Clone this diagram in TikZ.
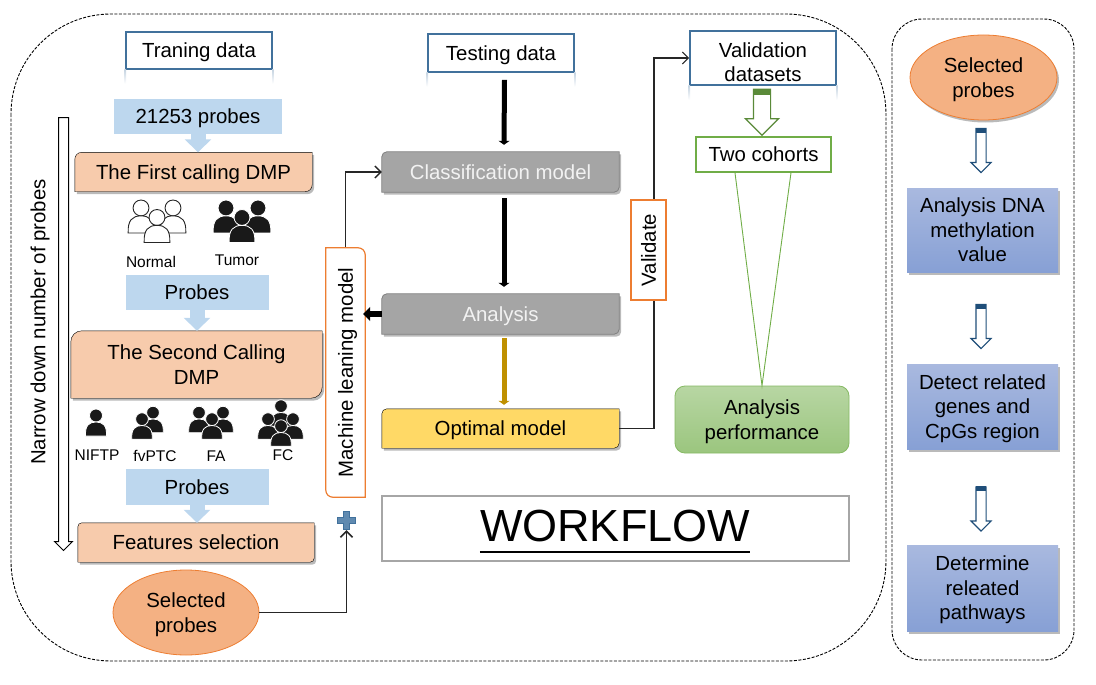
\documentclass[tikz,border=0pt]{standalone}
\usepackage{fontspec}
\setmainfont{Liberation Sans}
\usetikzlibrary{shapes.geometric, shapes.arrows, arrows.meta, shadows, backgrounds}
\definecolor{peach}{HTML}{F7CBAC}
\definecolor{skyfill}{HTML}{BDD7EE}
\definecolor{framecol}{HTML}{41719C}
\definecolor{orangeline}{HTML}{ED7D31}
\definecolor{ovalfill}{HTML}{F4B183}
\definecolor{greenline}{HTML}{70AD47}
\definecolor{greyfill}{HTML}{A5A5A5}
\definecolor{goldline}{HTML}{BF9000}
\definecolor{yellowfill}{HTML}{FFD966}
\definecolor{navyline}{HTML}{1F4E79}
\definecolor{bluetop}{HTML}{A9B9DF}
\definecolor{bluelow}{HTML}{87A0D5}
\newcommand{\diagpath}[3]{
	\draw[#1] (#2.north) [sharp corners] -- (#2.north east) -- (#2.east)
	[rounded corners=#3] -- (#2.south east) -- (#2.south) [sharp corners] -- (#2.south west) -- (#2.west)
	[rounded corners=#3] -- (#2.north west) -- cycle;
}
\begin{document}
\begin{tikzpicture}[x=1pt, y=-1pt, >={Straight Barb[length=6pt, width=12pt]},
		every node/.style={font=\fontsize{20.4}{24.5}\selectfont, align=center, text depth=0pt},
		wrap/.style={black, dash pattern=on 3pt off 1.5pt, line width=0.9pt, rounded corners=#1},
		framebox/.style={draw=framecol, line width=1.6pt, fill=white},
		skybox/.style={fill=skyfill},
		skyarrow/.style={skyfill, line width=15pt, -{Triangle[width=26pt, length=13pt]}},
		softshadow/.style={drop shadow={shadow xshift=2pt, shadow yshift=-2.5pt, fill=black!60, opacity=0.45}},
		peachpath/.style={fill=peach, softshadow},
		greypath/.style={fill=greyfill, draw=black!50, line width=0.8pt, softshadow},
		oval/.style={ellipse, fill=ovalfill, draw=orangeline, line width=0.8pt, inner sep=0pt},
		bluegrad/.style={top color=bluetop, bottom color=bluelow, softshadow},
		thickarrow/.style={line width=5pt, -{Triangle[width=11pt, length=4pt]}},
		hollow/.style={single arrow, draw, fill=white, shape border rotate=270},
		thinline/.style={line width=1.2pt, black!85},
		persondark/.style={fill=black!90, draw=white, line width=0.8pt},
		personlight/.style={fill=white, draw=black!85, line width=0.9pt},
		smalllabel/.style={font=\fontsize{15.5}{18}\selectfont},
		person/.pic={
			\path[pic actions] (0,-7) circle (6.5);
			\path[pic actions] (-10.5,13.5) .. controls (-11,3) and (-7,-0.5) .. (0,-0.5)
			.. controls (7,-0.5) and (11,3) .. (10.5,13.5) -- cycle;
		}]
		
		\useasboundingbox (0,0) rectangle (1096,685);
		
		\draw[wrap=100pt] (11,14) rectangle (886,661);
		\draw[wrap=30pt] (892,19) rectangle (1074,660);
		
		\node[framebox, minimum width=146pt, minimum height=37pt] (train) at (199,50.5) {Traning data};
		\node[framebox, minimum width=146pt, minimum height=38pt] (test) at (501,53) {Testing data};
		\node[framebox, minimum width=146pt, minimum height=54pt] (valid) at (763,58) {\rule{0pt}{23pt}Validation\\datasets};
		\node[draw=greenline, line width=1.6pt, fill=white, minimum width=135pt, minimum height=35pt] (cohort) at (763.5,154.5) {Two cohorts};
		\foreach \n in {train, test, valid}
		\foreach \a in {west, east} {
			\shade[top color=framecol!30, bottom color=white] ([xshift=-0.8pt]\n.south \a) rectangle ([xshift=0.8pt, yshift=-14pt]\n.south \a);
		}
		
		\node[skybox, minimum width=168pt, minimum height=35pt] (raw) at (198,116.5) {21253 probes};
		\node[minimum width=237pt, minimum height=39pt] (first) at (193.5,172) {The First calling DMP};
		\node[skybox, minimum width=143pt, minimum height=35pt] (probesa) at (197,292.5) {Probes};
		\node[minimum width=251pt, minimum height=67pt] (second) at (196.5,364.5) {The Second Calling\\DMP};
		\node[skybox, minimum width=143pt, minimum height=36pt] (probesb) at (197,487) {Probes};
		\node[minimum width=236pt, minimum height=39pt] (feature) at (196,542.5) {Features selection};
		\node[oval, minimum width=146pt, minimum height=85pt] (selecta) at (186,612.5) {Selected\\probes};
		
		\draw[skyarrow] (raw.south) -- (first.north -| raw.south);
		\draw[skyarrow] (probesa.south) -- (second.north -| probesa.south);
		\draw[skyarrow] (probesb.south) -- (feature.north -| probesb.south);
		
		\foreach \x/\y in {141/216.5, 173/216.5, 157/226} {
			\pic[personlight, scale=1.22] at (\x,\y) {person};
		}
		\foreach \x/\y in {226/216.5, 258/216.5, 242/226} {
			\pic[persondark, scale=1.22] at (\x,\y) {person};
		}
		\foreach \x/\y in {153/419.5, 142/426, 199/419.5, 223/419.5, 212/426, 281/413, 268/426, 293/426, 281/433} {
			\pic[persondark, scale=0.98] at (\x,\y) {person};
		}
		\pic[persondark] at (96,422.5) {person};
		
		\node[smalllabel] (normal) at (151,261.5) {Normal};
		\node[smalllabel] (tumor) at (237,260.5) {Tumor};
		\node[smalllabel] (niftp) at (97,455) {NIFTP};
		\node[smalllabel] (fvptc) at (155,456) {fvPTC};
		\node[smalllabel] (fa) at (216,456) {FA};
		\node[smalllabel] (fc) at (283,455) {FC};
		
		\node[rotate=90] (narrowtext) at (38,322) {Narrow down number of probes};
		\node[hollow, line width=1pt, inner sep=4.5pt, minimum height=433pt, minimum width=17pt, single arrow head extend=4pt] (narrow) at (63.5,331.5) {};
		
		\node[rotate=90, fill=white, minimum width=249pt, minimum height=39pt] (machine) at (345.5,372.5) {Machine leaning model};
		\node[minimum width=237pt, minimum height=40pt, text=black!5] (classify) at (500.5,172) {Classification model};
		\node[minimum width=237pt, minimum height=40pt, text=black!5] (analysis) at (500.5,314) {Analysis};
		\node[minimum width=237pt, minimum height=39pt] (optimal) at (500.5,428.5) {Optimal model};
		\coordinate (valturn) at (654,58);
		\draw[thinline, ->] (optimal.east) -| (valturn) -- (valid.west);
		\node[rotate=90, fill=white, draw=orangeline, line width=1.6pt, minimum width=100pt, minimum height=35pt] (validate) at (648.5,250) {Validate};
		
		\node[minimum size=19pt, inner sep=0pt] (plusmark) at (346.5,520.5) {};
		\draw[fill=framecol!75!skyfill, draw=framecol, line width=1pt] (plusmark.center) ++(-3,-9) -- ++(6,0) -- ++(0,6) -- ++(6,0)
		-- ++(0,6) -- ++(-6,0) -- ++(0,6) -- ++(-6,0) -- ++(0,-6) -- ++(-6,0) -- ++(0,-6) -- ++(6,0) -- cycle;
		\draw[thinline, line width=1.5pt, ->] (selecta.east) -| (plusmark.south);
		\draw[thinline, line width=1.4pt, ->] (machine.east) |- (classify.west);
		
		\draw[thickarrow] ([xshift=3.5pt, yshift=-7pt]test.south) -- ([xshift=3.5pt, yshift=7pt]classify.north);
		\draw[thickarrow] ([xshift=3.5pt, yshift=-6pt]classify.south) -- ([xshift=3.5pt, yshift=7pt]analysis.north);
		\draw[thickarrow, goldline] ([xshift=3.5pt, yshift=-4pt]analysis.south) -- ([xshift=3.5pt, yshift=4pt]optimal.north);
		
		\node[hollow, draw=greenline!80!black, line width=1.2pt, inner sep=8pt, minimum height=46pt, minimum width=32pt, single arrow head extend=8pt] (greendown) at (762,108) {};
		\fill[greenline!80!black] ([xshift=-8pt]greendown.tail) rectangle ([xshift=8pt, yshift=-6pt]greendown.tail);
		
		\node[draw=greenline!85, line width=0.8pt, rounded corners=10pt, top color=greenline!50!white, bottom color=greenline!70!white, minimum width=174pt, minimum height=67pt] (perf) at (762,419.5) {Analysis\\performance};
		\draw[greenline, line width=0.9pt] ([xshift=-28.5pt]cohort.south) -- (perf.north) -- ([xshift=27.5pt]cohort.south);
		
		\node[draw=black!35, line width=1.6pt, minimum width=467pt, minimum height=65pt] (wfbox) at (615.5,528.5) {};
		\node[font=\fontsize{45}{50}\selectfont, inner sep=0pt] (title) at (615,526) {WORKFLOW};
		\draw[line width=1.7pt] ([yshift=-10pt]title.base west) -- ([yshift=-10pt]title.base east);
		
		\node[oval, minimum width=147pt, minimum height=85pt, softshadow] (selectb) at (983.5,77.5) {Selected\\probes};
		\node[bluegrad, minimum width=151pt, minimum height=84pt] (dnabox) at (982.5,230) {Analysis DNA\\methylation\\value};
		\node[bluegrad, minimum width=151pt, minimum height=85pt] (cpgbox) at (982.5,406.5) {Detect related\\genes and\\CpGs region};
		\node[bluegrad, minimum width=151pt, minimum height=86pt] (pathbox) at (982.5,588) {Determine\\releated\\pathways};
		\foreach \n/\y in {one/148, two/324, three/506.5} {
			\node[hollow, draw=navyline, line width=1.1pt, inner sep=4.5pt, minimum height=44pt, minimum width=19pt, single arrow head extend=5pt] (down\n) at (981,\y) {};
			\fill[navyline] ([xshift=-5pt]down\n.tail) rectangle ([xshift=5pt, yshift=-5pt]down\n.tail);
		}
		
		\begin{scope}[on background layer]
			\diagpath{peachpath}{first}{7pt}
			\diagpath{peachpath}{second}{11pt}
			\diagpath{peachpath}{feature}{4pt}
			\diagpath{greypath}{classify}{5pt}
			\diagpath{greypath}{analysis}{5pt}
			\diagpath{fill=yellowfill, softshadow}{optimal}{5pt}
		\end{scope}
		\diagpath{draw=orangeline, line width=1.2pt}{machine}{7pt}
		\draw[line width=6pt, -{Triangle[width=14pt, length=7pt]}] (analysis.west) -- ([xshift=-2pt]machine.south |- analysis.west);
	\end{tikzpicture}
\end{document}
